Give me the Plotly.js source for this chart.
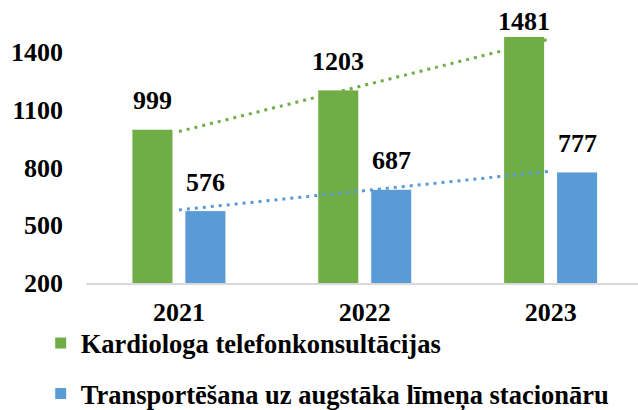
<!DOCTYPE html>
<html><head><meta charset="utf-8">
<script src="https://cdn.plot.ly/plotly-3.0.1.min.js"></script>
<style>html,body{margin:0;padding:0;background:#fff}#chart{width:638px;height:410px}</style>
</head><body><div id="chart"></div>
<script>
const years = ['2021', '2022', '2023'];
const seriesNames = ['Kardiologa telefonkonsultācijas', 'Transportēšana uz augstāka līmeņa stacionāru'];
const kardiologs = [999, 1203, 1481];
const transports = [576, 687, 777];
const colors = ['#70AD47', '#5B9BD5'];
const yTicks = [200, 500, 800, 1100, 1400];

const FONT = 'Liberation Serif';
const allSeries = [kardiologs, transports];
const offsets = [-0.253, 0.032];
const barW = 0.221;
const yMax = 1618;

function trend(vals) {
  const n = vals.length;
  const xs = vals.map((_, i) => i);
  const mx = xs.reduce((a, b) => a + b, 0) / n;
  const my = vals.reduce((a, b) => a + b, 0) / n;
  let num = 0, den = 0;
  xs.forEach((x, i) => { num += (x - mx) * (vals[i] - my); den += (x - mx) * (x - mx); });
  const s = num / den, b = my - s * mx;
  return [b, b + s * (n - 1)];
}

const traces = [];
allSeries.forEach((vals, k) => {
  traces.push({
    type: 'bar', x: [0, 1, 2], y: vals, name: seriesNames[k],
    width: barW, offset: offsets[k],
    marker: {color: colors[k], line: {color: '#ffffff', width: 1}},
    legendgroup: 'g' + k, hoverinfo: 'none'
  });
});
allSeries.forEach((vals, k) => {
  traces.push({
    type: 'scatter', mode: 'lines', x: [0, 2], y: trend(vals),
    line: {color: colors[k], width: 3, dash: '3px,5px'},
    showlegend: false, hoverinfo: 'none'
  });
});

const annotations = [];
allSeries.forEach((vals, k) => {
  vals.forEach((v, i) => {
    annotations.push({
      x: i, y: v, xref: 'x', yref: 'y', text: String(v), showarrow: false,
      xshift: (k === 0 ? -26.5 : 26.5), yanchor: 'bottom',
      yshift: (v > yMax - 200 ? -2 : 12),
      font: {family: FONT, size: 26, color: '#000', weight: 'bold'}
    });
  });
});

const layout = {
  width: 638, height: 410,
  margin: {l: 86, r: 0, t: 10, b: 127, autoexpand: false},
  paper_bgcolor: '#fff', plot_bgcolor: '#fff',
  showlegend: true,
  legend: {
    x: -0.082, xanchor: 'left', y: -0.133, yanchor: 'top',
    orientation: 'v', tracegroupgap: 13, bgcolor: 'rgba(0,0,0,0)',
    font: {family: FONT, size: 26.5, color: '#000', weight: 'bold'}
  },
  xaxis: {
    range: [-0.5, 2.47], tickvals: [0, 1, 2], ticktext: years,
    showgrid: false, zeroline: false, showline: true, linecolor: '#d9d9d9', linewidth: 2,
    ticks: '', ticklabelstandoff: 5,
    tickfont: {family: FONT, size: 26, color: '#000', weight: 'bold'}
  },
  yaxis: {
    range: [200, yMax], tickvals: yTicks, ticktext: yTicks.map(String),
    showgrid: false, zeroline: false, showline: false, ticks: '',
    ticklabelstandoff: 22,
    tickfont: {family: FONT, size: 26, color: '#000', weight: 'bold'}
  },
  annotations: annotations
};

Plotly.newPlot('chart', traces, layout, {displayModeBar: false, staticPlot: true});
</script></body></html>
